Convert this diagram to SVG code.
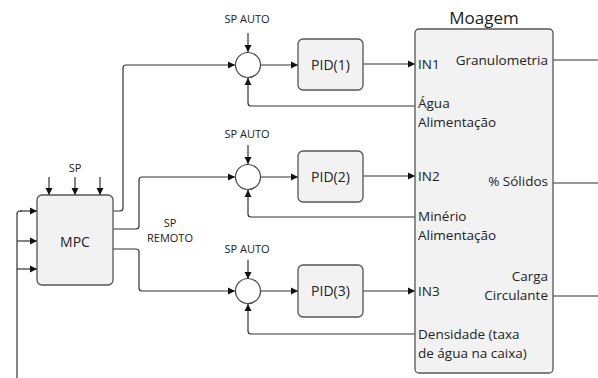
<svg xmlns="http://www.w3.org/2000/svg" width="598" height="378" viewBox="0 0 598 378">
<defs>
<marker id="ah" markerWidth="8" markerHeight="8" refX="7" refY="4" orient="auto" markerUnits="userSpaceOnUse">
<path d="M0,0.5 L7,4 L0,7.5 Z" fill="#111"/>
</marker>
<style>
.blk{fill:#f2f2f2;stroke:#555;stroke-width:1.3}
.ln{fill:none;stroke:#333;stroke-width:1.2;stroke-linejoin:round}
.ar{fill:none;stroke:#333;stroke-width:1.2;stroke-linejoin:round;marker-end:url(#ah)}
.sm{font-family:"Open Sans","Noto Sans",sans-serif;font-size:11px;fill:#222;text-anchor:middle}
.md{font-family:"Open Sans","Noto Sans",sans-serif;font-size:13.5px;fill:#222}
.pd{font-family:"Open Sans","Noto Sans",sans-serif;font-size:14px;fill:#222;text-anchor:middle}
.lg{font-family:"Open Sans","Noto Sans",sans-serif;font-size:17px;fill:#222;text-anchor:middle}
</style>
</defs>
<rect width="598" height="378" fill="#fff"/>
<g id="connectors">
<path class="ln" d="M17,378 L17,214 Q17,211 20,211 L22,211"/>
<path class="ar" d="M20,211 L37,211"/>
<path class="ar" d="M17,241 L37,241"/>
<path class="ar" d="M17,269 L37,269"/>
<path class="ar" d="M49,177 L49,195"/>
<path class="ar" d="M75,177 L75,195"/>
<path class="ar" d="M100,177 L100,195"/>
<path class="ar" d="M113,211 L120,211 Q123,211 123,208 L123,68 Q123,65 126,65 L235,65"/>
<path class="ar" d="M113,229 L136,229 Q139,229 139,226 L139,180 Q139,177 142,177 L235,177"/>
<path class="ar" d="M113,249 L136,249 Q139,249 139,252 L139,288 Q139,291 142,291 L235,291"/>
<path class="ar" d="M248,33 L248,52"/>
<path class="ar" d="M248,145 L248,164"/>
<path class="ar" d="M248,260 L248,279"/>
<path class="ar" d="M260.5,65 L298,65"/>
<path class="ar" d="M260.5,177 L298,177"/>
<path class="ar" d="M260.5,291 L298,291"/>
<path class="ar" d="M363,64 L415,64"/>
<path class="ar" d="M363,176 L415,176"/>
<path class="ar" d="M363,291 L415,291"/>
<path class="ar" d="M415,106 L251,106 Q248,106 248,103 L248,78"/>
<path class="ar" d="M415,217 L251,217 Q248,217 248,214 L248,190"/>
<path class="ar" d="M415,334 L251,334 Q248,334 248,331 L248,304"/>
<path class="ln" d="M553,60 L598,60"/>
<path class="ln" d="M553,183 L598,183"/>
<path class="ln" d="M553,296 L598,296"/>
</g>
<g id="mpc">
<rect class="blk" x="37" y="195" width="76" height="90" rx="5"/>
<text class="pd" x="75" y="247">MPC</text>
<text class="sm" x="75" y="172">SP</text>
</g>
<g id="sp-remoto">
<text class="sm" x="170" y="227">SP</text>
<text class="sm" x="170" y="242">REMOTO</text>
</g>
<g id="sum1"><circle cx="248" cy="65" r="12.5" fill="#fff" stroke="#444" stroke-width="1.2"/><text class="sm" x="247" y="23">SP AUTO</text></g>
<g id="sum2"><circle cx="248" cy="177" r="12.5" fill="#fff" stroke="#444" stroke-width="1.2"/><text class="sm" x="247" y="138">SP AUTO</text></g>
<g id="sum3"><circle cx="248" cy="291" r="12.5" fill="#fff" stroke="#444" stroke-width="1.2"/><text class="sm" x="247" y="253">SP AUTO</text></g>
<g id="pid1"><rect class="blk" x="298" y="39" width="65" height="51" rx="5"/><text class="pd" x="330.5" y="70">PID(1)</text></g>
<g id="pid2"><rect class="blk" x="298" y="151" width="65" height="51" rx="5"/><text class="pd" x="330.5" y="182">PID(2)</text></g>
<g id="pid3"><rect class="blk" x="298" y="265" width="65" height="52" rx="5"/><text class="pd" x="330.5" y="296">PID(3)</text></g>
<g id="moagem">
<rect class="blk" x="415" y="29" width="138" height="344" rx="4"/>
<text class="lg" x="484" y="24">Moagem</text>
<text class="md" x="418" y="69">IN1</text>
<text class="md" x="548" y="65" text-anchor="end">Granulometria</text>
<text class="md" x="418" y="108">Água</text>
<text class="md" x="418" y="127">Alimentação</text>
<text class="md" x="418" y="181">IN2</text>
<text class="md" x="548" y="186" text-anchor="end">% Sólidos</text>
<text class="md" x="418" y="221">Minério</text>
<text class="md" x="418" y="240">Alimentação</text>
<text class="md" x="548" y="281" text-anchor="end">Carga</text>
<text class="md" x="418" y="296">IN3</text>
<text class="md" x="548" y="300" text-anchor="end">Circulante</text>
<text class="md" x="418" y="339">Densidade (taxa</text>
<text class="md" x="418" y="358">de água na caixa)</text>
</g>
</svg>
